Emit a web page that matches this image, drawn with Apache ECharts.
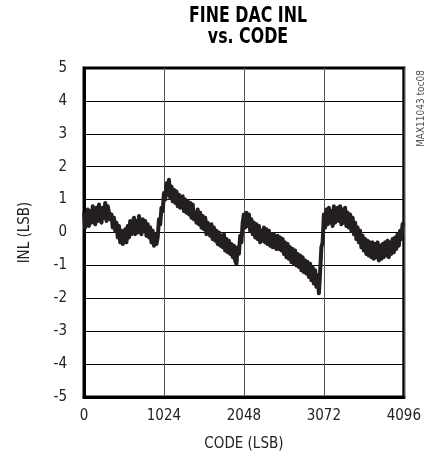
<!DOCTYPE html>
<html>
<head>
<meta charset="utf-8">
<script src="https://cdn.jsdelivr.net/npm/echarts@6/dist/echarts.min.js"></script>
<style>html,body{margin:0;padding:0;background:#fff}#c{width:424px;height:458px}</style>
</head>
<body>
<div id="c"></div>
<script>
var codeStep = 16;
var inlValues = [
0.60,0.15,0.55,0.70,0.20,0.65,0.30,0.80,0.45,0.25,
0.75,0.35,0.85,0.40,0.30,0.75,0.45,0.90,0.35,0.80,
0.85,0.40,0.55,0.15,0.45,0.05,0.30,-0.15,0.20,-0.30,
0.05,-0.35,-0.25,0.10,-0.30,0.20,-0.15,0.35,-0.05,0.30,
0.45,-0.05,0.35,0.00,0.50,0.10,-0.05,0.40,0.05,0.35,
-0.10,0.25,-0.15,0.15,-0.30,0.05,-0.40,-0.05,-0.35,-0.15,
0.40,0.25,0.75,0.65,1.20,1.00,1.50,1.15,1.60,1.05,
1.40,0.95,1.30,0.90,1.25,0.80,1.15,0.75,0.85,1.10,
0.65,1.00,0.60,0.95,0.55,0.90,0.45,0.85,0.40,0.60,
0.30,0.70,0.25,0.60,0.15,0.50,0.10,0.45,-0.05,0.30,
0.35,-0.10,0.25,-0.20,0.15,-0.25,0.05,-0.35,0.00,-0.40,
-0.10,-0.45,-0.05,-0.55,-0.20,-0.60,-0.25,-0.65,-0.35,-0.75,
-0.40,-0.85,-0.95,-0.45,-0.65,-0.10,-0.30,0.30,0.55,0.15,
0.60,0.20,0.55,0.05,0.40,-0.05,0.30,-0.15,0.25,-0.20,
0.20,-0.30,0.05,-0.25,0.15,-0.30,0.10,-0.35,0.05,-0.40,
-0.05,-0.45,-0.05,-0.40,-0.50,-0.10,-0.50,-0.15,-0.55,-0.20,
-0.65,-0.30,-0.75,-0.35,-0.80,-0.45,-0.90,-0.50,-0.95,-0.55,
-1.00,-0.65,-1.05,-0.70,-1.15,-0.75,-1.20,-0.85,-1.25,-0.90,
-1.35,-0.95,-1.45,-1.05,-1.55,-1.15,-1.65,-1.30,-1.85,-1.20,
-0.45,-0.30,0.55,0.15,0.70,0.25,0.75,0.30,0.65,0.20,
0.80,0.30,0.25,0.75,0.35,0.80,0.25,0.70,0.30,0.75,
0.20,0.60,0.15,0.55,0.05,0.45,-0.05,0.30,-0.20,0.15,
-0.30,0.05,-0.45,-0.10,-0.55,-0.20,-0.65,-0.25,-0.70,-0.30,
-0.75,-0.30,-0.80,-0.35,-0.75,-0.30,-0.85,-0.40,-0.80,-0.35,
-0.75,-0.30,-0.70,-0.25,-0.75,-0.30,-0.65,-0.20,-0.60,-0.15,
-0.50,-0.05,-0.40,0.05,-0.20,0.25,0.30
];
var xTicks = [0, 1024, 2048, 3072, 4096];
var yTicks = [-5, -4, -3, -2, -1, 0, 1, 2, 3, 4, 5];
var titleLines = ['FINE DAC INL', 'vs. CODE'];

var seriesData = inlValues.map(function (v, i) { return [i * codeStep, v]; });
var font = '"DejaVu Sans Condensed", "Liberation Sans Narrow", "Liberation Sans", sans-serif';

var chart = echarts.init(document.getElementById('c'));
chart.setOption({
  animation: false,
  backgroundColor: '#fff',
  graphic: [{
    type: 'text', x: 248, y: 5, scaleX: 0.8,
    style: { text: titleLines[0], font: 'bold 22px ' + font, fill: '#000', textAlign: 'center', textVerticalAlign: 'top' }
  }, {
    type: 'text', x: 248, y: 26, scaleX: 0.8,
    style: { text: titleLines[1], font: 'bold 22px ' + font, fill: '#000', textAlign: 'center', textVerticalAlign: 'top' }
  }, {
    type: 'text',
    x: 416,
    y: 147,
    rotation: Math.PI / 2,
    style: { text: 'MAX11043 toc08', font: '10px ' + font, fill: '#555', textVerticalAlign: 'top' }
  }],
  grid: {
    left: 84, right: 11, top: 68, bottom: 61,
    show: true, borderColor: '#000', borderWidth: 3, backgroundColor: 'transparent'
  },
  xAxis: {
    type: 'value',
    min: xTicks[0], max: xTicks[xTicks.length - 1], interval: 1024,
    name: 'CODE (LSB)', nameLocation: 'middle', nameGap: 40,
    nameTextStyle: { fontFamily: font, fontSize: 15, color: '#222' },
    axisLine: { show: true, onZero: false, lineStyle: { color: '#000', width: 3 } },
    axisTick: { show: false },
    axisLabel: { fontFamily: font, fontSize: 15, color: '#222', margin: 12,
      formatter: function (v) { return String(v); } },
    splitLine: { show: true, lineStyle: { color: '#555', width: 1 } }
  },
  yAxis: {
    type: 'value',
    min: yTicks[0], max: yTicks[yTicks.length - 1], interval: 1,
    name: 'INL (LSB)', nameLocation: 'middle', nameGap: 51,
    nameTextStyle: { fontFamily: font, fontSize: 15, color: '#222' },
    axisLine: { show: true, onZero: false, lineStyle: { color: '#000', width: 3 } },
    axisTick: { show: false },
    axisLabel: { fontFamily: font, fontSize: 15, color: '#222', margin: 17,
      formatter: function (v) { return String(v); } },
    splitLine: { show: true, lineStyle: { color: '#000', width: 1 } }
  },
  series: [{
    type: 'line',
    data: seriesData,
    showSymbol: false,
    symbol: 'none',
    lineStyle: { color: '#231f20', width: 4, join: 'round' },
    z: 3
  }]
});
</script>
</body>
</html>
